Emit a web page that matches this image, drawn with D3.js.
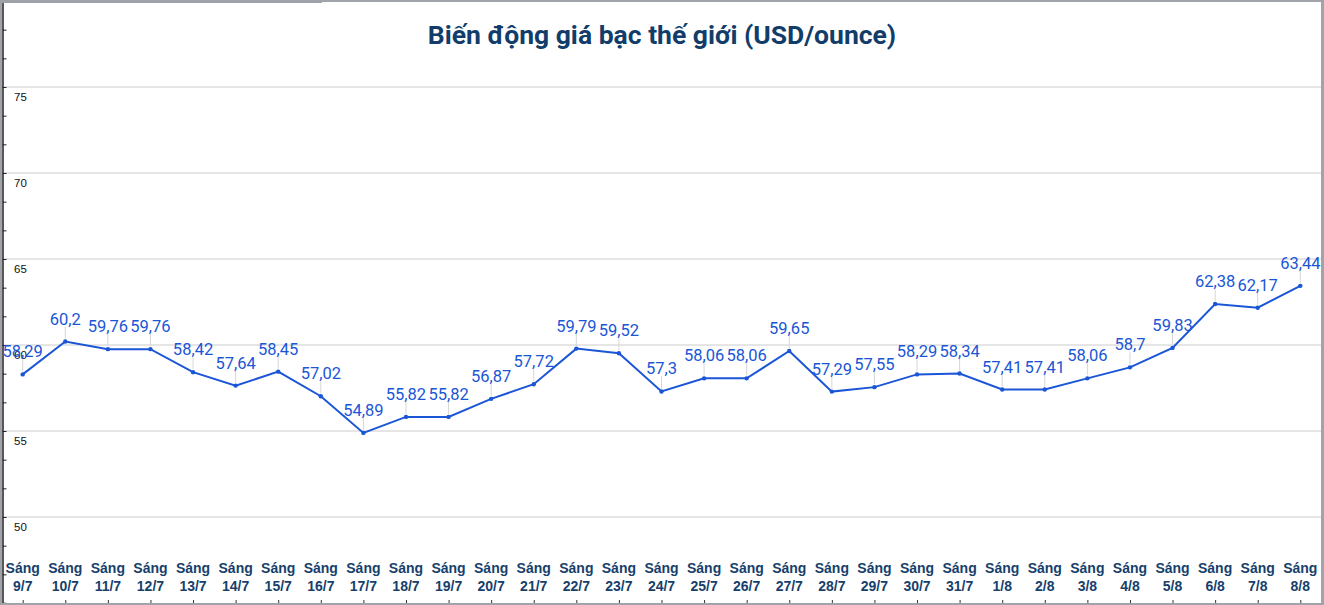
<!DOCTYPE html>
<html><head><meta charset="utf-8">
<script src="https://cdn.jsdelivr.net/npm/d3@7"></script>
<style>html,body{margin:0;padding:0;background:#fff;overflow:hidden}</style>
</head><body>
<svg id="c" width="1324" height="605"></svg>
<script>
const categories = ["9/7","10/7","11/7","12/7","13/7","14/7","15/7","16/7","17/7","18/7","19/7","20/7","21/7","22/7","23/7","24/7","25/7","26/7","27/7","28/7","29/7","30/7","31/7","1/8","2/8","3/8","4/8","5/8","6/8","7/8","8/8"];
const prices = [58.29,60.2,59.76,59.76,58.42,57.64,58.45,57.02,54.89,55.82,55.82,56.87,57.72,59.79,59.52,57.3,58.06,58.06,59.65,57.29,57.55,58.29,58.34,57.41,57.41,58.06,58.7,59.83,62.38,62.17,63.44];
const yTickLabels = [50,55,60,65,70,75];
const labelPrefix = "Sáng";
const title = "Biến động giá bạc thế giới (USD/ounce)";

const W = 1324, H = 605;
const svg = d3.select("#c");
const x = d3.scalePoint().domain(categories).range([22.7, 1300.3]);
const y = d3.scaleLinear().domain([45, 80]).range([603, 1]);

// gridlines
svg.append("g").selectAll("line").data(yTickLabels).join("line")
  .attr("x1", 3).attr("x2", 1321)
  .attr("y1", d => y(d)).attr("y2", d => y(d))
  .attr("stroke", "#cccccc").attr("stroke-width", 1);

// y axis with minor ticks
const minorTicks = d3.range(0, 22).map(k => 45 + k * 5 / 3);
const yAxis = d3.axisRight(y).tickValues(minorTicks).tickSize(4).tickFormat("");
const ya = svg.append("g").attr("transform", "translate(2.5,0)").call(yAxis);
ya.select(".domain").attr("stroke", "#222").attr("stroke-width", 1.5);
ya.selectAll(".tick line").attr("stroke", "#222");

// y labels
svg.append("g").selectAll("text").data(yTickLabels).join("text")
  .attr("x", 14).attr("y", d => y(d) + 14)
  .attr("font-family", "Arial, 'Liberation Sans', sans-serif").attr("font-size", 11.5)
  .attr("fill", "#111").text(d => d);

// x axis ticks at bottom
const xAxis = d3.axisTop(x).tickSize(3).tickFormat("");
const xa = svg.append("g").attr("transform", "translate(0,603)").call(xAxis);
xa.select(".domain").remove();
xa.selectAll(".tick line").attr("stroke", "#333");

// x labels
const xl = svg.append("g").selectAll("text").data(categories).join("text")
  .attr("text-anchor", "middle")
  .attr("font-family", "Arial, 'Liberation Sans', sans-serif").attr("font-weight", "bold")
  .attr("font-size", 14).attr("fill", "#173f6c");
xl.append("tspan").attr("x", d => x(d)).attr("y", 573).text(labelPrefix);
xl.append("tspan").attr("x", d => x(d)).attr("y", 591).text(d => d);

const pts = categories.map((c, i) => ({c, v: prices[i]}));

// leader lines
svg.append("g").selectAll("line").data(pts).join("line")
  .attr("x1", d => x(d.c)).attr("x2", d => x(d.c))
  .attr("y1", d => y(d.v) - 3).attr("y2", d => y(d.v) - 15)
  .attr("stroke", "#d6d6d6").attr("stroke-width", 1);

// line
svg.append("path").datum(pts)
  .attr("d", d3.line().x(d => x(d.c)).y(d => y(d.v)))
  .attr("fill", "none").attr("stroke", "#1a56d6").attr("stroke-width", 2);

// points
svg.append("g").selectAll("circle").data(pts).join("circle")
  .attr("cx", d => x(d.c)).attr("cy", d => y(d.v)).attr("r", 2.2)
  .attr("fill", "#1a56d6");

// data labels
svg.append("g").selectAll("text").data(pts).join("text")
  .attr("x", d => x(d.c)).attr("y", d => y(d.v) - 17)
  .attr("text-anchor", "middle")
  .attr("font-family", "Roboto, sans-serif").attr("font-size", 16.5)
  .attr("fill", "#1a56d6")
  .text(d => String(d.v).replace(".", ","));

// title
svg.append("text").attr("x", 662).attr("y", 44).attr("text-anchor", "middle")
  .attr("font-family", "Roboto, sans-serif").attr("font-weight", "bold")
  .attr("font-size", 26.5).attr("fill", "#123d6a").text(title);

// frame
svg.append("line").attr("x1", 0).attr("x2", 1324).attr("y1", 1).attr("y2", 1).attr("stroke", "#a0a4aa").attr("stroke-width", 2);
svg.append("line").attr("x1", 0).attr("x2", 322).attr("y1", 1.5).attr("y2", 1.5).attr("stroke", "#9ea3a9").attr("stroke-width", 3);
svg.append("line").attr("x1", 1).attr("x2", 1).attr("y1", 0).attr("y2", 605).attr("stroke", "#a0a4aa").attr("stroke-width", 2);
svg.append("line").attr("x1", 1322.5).attr("x2", 1322.5).attr("y1", 0).attr("y2", 605).attr("stroke", "#a0a4aa").attr("stroke-width", 3);
svg.append("line").attr("x1", 0).attr("x2", 1324).attr("y1", 604).attr("y2", 604).attr("stroke", "#a0a4aa").attr("stroke-width", 2);
</script>
</body></html>
